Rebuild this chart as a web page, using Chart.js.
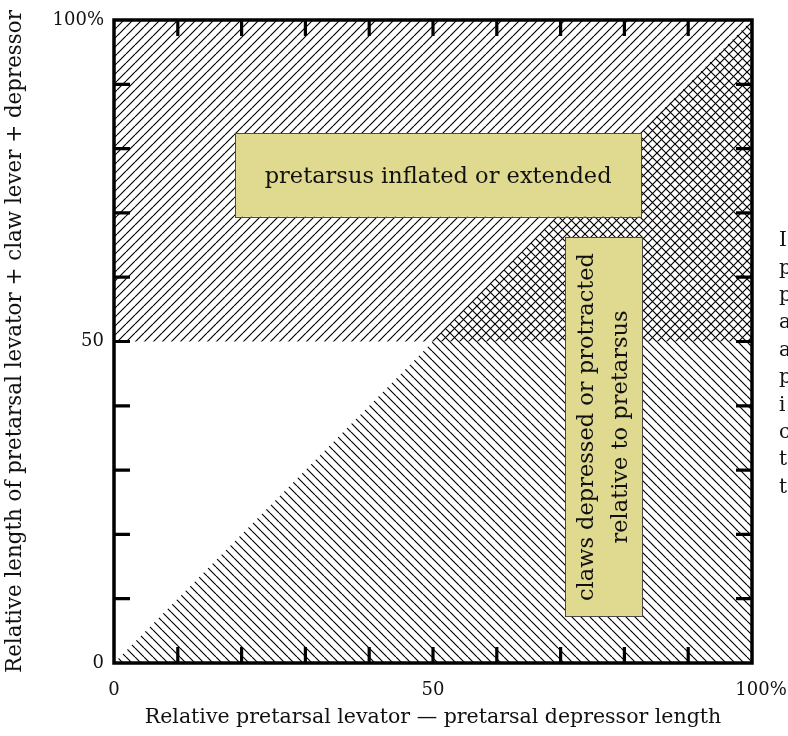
<!DOCTYPE html>
<html>
<head>
<meta charset="utf-8">
<script src="https://cdn.jsdelivr.net/npm/chart.js@4.4.1/dist/chart.umd.min.js"></script>
<style>
html,body{margin:0;padding:0;background:#fff;}
#wrap{width:788px;height:736px;position:relative;}
</style>
</head>
<body>
<div id="wrap"><canvas id="c"></canvas></div>
<script>
// ---- data (in axis units, percent) ----
const upperRegionX = [0, 100];
const upperRegionTop = [100, 100];
const upperRegionBase = 50;
const diagonalX = [0, 100];
const diagonalY = [0, 100];
const xTickValues = [0, 10, 20, 30, 40, 50, 60, 70, 80, 90, 100];
const yTickValues = [0, 10, 20, 30, 40, 50, 60, 70, 80, 90, 100];
const xTickLabels = {0: '0', 50: '50', 100: '\u2003100%'};
const yTickLabels = {0: '0', 50: '50', 100: '100%'};
const inflatedBoxX = [19, 82.6];
const inflatedBoxY = [69.4, 82.4];
const inflatedText = ['pretarsus inflated or extended'];
const clawsBoxX = [70.7, 82.8];
const clawsBoxY = [7.2, 66.2];
const clawsText = ['claws depressed or protracted', 'relative to pretarsus'];
const xTitle = 'Relative pretarsal levator \u2014 pretarsal depressor length';
const yTitle = 'Relative length of pretarsal levator + claw lever + depressor';
const sideTextLines = ['I', 'p', 'p', 'a', 'a', 'p', 'i', 'c', 't', 't'];

const FONT = '"DejaVu Serif", "Liberation Serif", serif';

function hatch(dir, s) {
  const c = document.createElement('canvas');
  c.width = s; c.height = s;
  const g = c.getContext('2d');
  g.strokeStyle = '#000';
  g.lineWidth = 1.15;
  g.beginPath();
  for (const k of [-s, 0, s]) {
    if (dir === 'up') { g.moveTo(k, s); g.lineTo(k + s, 0); }
    else { g.moveTo(k, 0); g.lineTo(k + s, s); }
  }
  g.stroke();
  return g.createPattern(c, 'repeat');
}

const decorPlugin = {
  id: 'decor',
  afterDatasetsDraw(chart) {
    const {ctx, chartArea: a, scales: {x, y}} = chart;
    ctx.save();
    function box(bx, by) {
      const l = x.getPixelForValue(bx[0]), r = x.getPixelForValue(bx[1]);
      const t = y.getPixelForValue(by[1]), b = y.getPixelForValue(by[0]);
      ctx.fillStyle = 'rgb(224,218,145)';
      ctx.fillRect(l, t, r - l, b - t);
      ctx.strokeStyle = '#4a4a4a';
      ctx.lineWidth = 1;
      ctx.strokeRect(Math.round(l) + 0.5, Math.round(t) + 0.5, Math.round(r - l), Math.round(b - t));
      return {l, r, t, b, cx: (l + r) / 2, cy: (t + b) / 2};
    }
    const b1 = box(inflatedBoxX, inflatedBoxY);
    ctx.fillStyle = '#111';
    ctx.font = '22.5px ' + FONT;
    ctx.textAlign = 'center';
    ctx.textBaseline = 'middle';
    ctx.fillText(inflatedText[0], b1.cx, b1.cy + 2);
    const b2 = box(clawsBoxX, clawsBoxY);
    ctx.save();
    ctx.translate(b2.cx, b2.cy);
    ctx.rotate(-Math.PI / 2);
    ctx.fillStyle = '#111';
    ctx.font = '22.5px ' + FONT;
    ctx.textAlign = 'center';
    ctx.textBaseline = 'middle';
    const lh = 34;
    clawsText.forEach((t, i) => ctx.fillText(t, 0, (i - (clawsText.length - 1) / 2) * lh));
    ctx.restore();

    // frame
    ctx.strokeStyle = '#000';
    ctx.lineWidth = 3.5;
    ctx.strokeRect(a.left, a.top, a.right - a.left, a.bottom - a.top);
    // inward ticks
    ctx.lineWidth = 3.2;
    const tl = 16;
    ctx.beginPath();
    x.ticks.forEach(t => {
      if (t.value <= x.min || t.value >= x.max) return;
      const px = x.getPixelForValue(t.value);
      ctx.moveTo(px, a.bottom); ctx.lineTo(px, a.bottom - tl);
      ctx.moveTo(px, a.top); ctx.lineTo(px, a.top + tl);
    });
    y.ticks.forEach(t => {
      if (t.value <= y.min || t.value >= y.max) return;
      const py = y.getPixelForValue(t.value);
      ctx.moveTo(a.left, py); ctx.lineTo(a.left + tl, py);
      ctx.moveTo(a.right, py); ctx.lineTo(a.right - tl, py);
    });
    ctx.stroke();
    ctx.restore();
  },
  afterDraw(chart) {
    const ctx = chart.ctx;
    ctx.save();
    ctx.fillStyle = '#111';
    ctx.font = '20px ' + FONT;
    ctx.textAlign = 'left';
    ctx.textBaseline = 'middle';
    sideTextLines.forEach((t, i) => ctx.fillText(t, 779, 241 + i * 27.4));
    ctx.restore();
  }
};

new Chart(document.getElementById('c'), {
  type: 'scatter',
  data: {
    datasets: [
      {
        label: 'upper',
        type: 'line',
        data: upperRegionX.map((v, i) => ({x: v, y: upperRegionTop[i]})),
        fill: {value: upperRegionBase},
        backgroundColor: hatch('up', 9),
        borderWidth: 0,
        pointRadius: 0,
        tension: 0
      },
      {
        label: 'lower',
        type: 'line',
        data: diagonalX.map((v, i) => ({x: v, y: diagonalY[i]})),
        fill: {value: 0},
        backgroundColor: hatch('down', 9),
        borderWidth: 0,
        pointRadius: 0,
        tension: 0
      }
    ]
  },
  options: {
    responsive: true,
    maintainAspectRatio: false,
    devicePixelRatio: 1,
    animation: false,
    events: [],
    layout: {padding: {top: 20, right: 36, left: 0, bottom: 0}},
    plugins: {legend: {display: false}, tooltip: {enabled: false}},
    scales: {
      x: {
        type: 'linear', min: 0, max: 100,
        afterBuildTicks: s => { s.ticks = xTickValues.map(v => ({value: v})); },
        afterFit: s => { s.height = 73; s.paddingLeft = 0; s.paddingRight = 0; },
        grid: {display: false, drawTicks: false},
        border: {display: false},
        ticks: {
          autoSkip: false, maxRotation: 0, padding: 17,
          color: '#111', font: {family: FONT, size: 18},
          callback: v => (xTickLabels[v] !== undefined ? xTickLabels[v] : '')
        },
        title: {display: true, text: xTitle, color: '#111', font: {family: FONT, size: 20.5}, padding: {top: 0, bottom: 6}}
      },
      y: {
        type: 'linear', min: 0, max: 100,
        afterBuildTicks: s => { s.ticks = yTickValues.map(v => ({value: v})); },
        afterFit: s => { s.width = 114; s.paddingTop = 0; s.paddingBottom = 0; },
        grid: {display: false, drawTicks: false},
        border: {display: false},
        ticks: {
          autoSkip: false, padding: 10,
          color: '#111', font: {family: FONT, size: 18},
          callback: v => (yTickLabels[v] !== undefined ? yTickLabels[v] : '')
        },
        title: {display: true, text: yTitle, color: '#111', font: {family: FONT, size: 21.4}, padding: {top: 3, bottom: 0}}
      }
    }
  },
  plugins: [decorPlugin]
});
</script>
</body>
</html>
